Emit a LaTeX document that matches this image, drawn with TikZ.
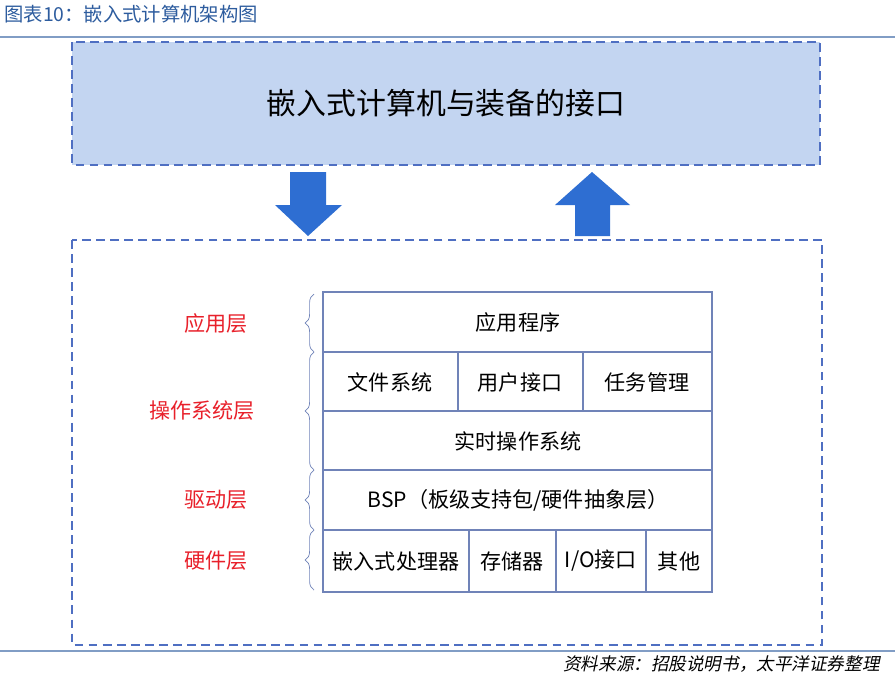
\documentclass[tikz,border=0pt]{standalone}
\usepackage{fontspec}
\setmainfont{Liberation Sans}
\newfontfamily\cjk{Noto Sans CJK SC}
\newfontfamily\cjkit[FakeSlant=0.2]{Noto Sans CJK SC}
\usetikzlibrary{decorations.pathreplacing}
\definecolor{boxblue}{HTML}{C3D5F1}
\definecolor{dashblue}{HTML}{4F6FC2}
\definecolor{arrowblue}{HTML}{2E6ED2}
\definecolor{gridblue}{HTML}{7083B8}
\definecolor{titleblue}{HTML}{2D5C9E}
\definecolor{layerred}{HTML}{E8202A}
\begin{document}
\begin{tikzpicture}[x=0.02cm, y=-0.02cm]
\tikzset{cell/.style={inner sep=0pt, font=\cjk\fontsize{12}{14}\selectfont},
  layer/.style={inner sep=0pt, text=layerred, font=\cjk\fontsize{12}{14}\selectfont},
  dashbox/.style={draw=dashblue, dashed, line width=0.9pt, dash pattern=on 5pt off 3pt},
  bigarrow/.style={fill=arrowblue, draw=none},
  grid/.style={draw=gridblue, line width=0.9pt},
  layerbrace/.style={draw=gridblue, decorate, decoration={brace, amplitude=5pt}}}
\useasboundingbox (0,0) rectangle (895,677);
% title and rules
\node[anchor=west, inner sep=0pt, text=titleblue, font=\cjk\fontsize{11}{13}\selectfont] (title) at (4,14) {图表10：嵌入式计算机架构图};
\draw[titleblue!60, line width=0.8pt] (0,37) -- (895,37);
\draw[titleblue!60, line width=0.8pt] (0,651) -- (895,651);
\node[anchor=east, inner sep=0pt, font=\cjkit\fontsize{10}{12}\selectfont] (source) at (880,664) {资料来源：招股说明书，太平洋证券整理};
% interface box
\draw[dashbox, fill=boxblue] (72,42) rectangle (820,165);
\node[inner sep=0pt, font=\cjk\fontsize{17}{20}\selectfont] (iface) at (446,103) {嵌入式计算机与装备的接口};
% arrows
\fill[bigarrow] (290,172) -- (326,172) -- (326,205) -- (342,205) -- (308,236) -- (275,205) -- (290,205) -- cycle;
\fill[bigarrow] (592,172) -- (630,205) -- (610,205) -- (610,236) -- (575,236) -- (575,205) -- (555,205) -- cycle;
% system box
\draw[dashbox] (72,240) rectangle (822,645);
\draw[grid] (323,292) rectangle (712,592);
\foreach \y in {352,411,470,530} \draw[grid] (323,\y) -- (712,\y);
\foreach \x in {458,583} \draw[grid] (\x,352) -- (\x,411);
\foreach \x in {469,556,646} \draw[grid] (\x,530) -- (\x,592);
\node[cell] (app) at (518,322) {应用程序};
\node[cell] (fs) at (390,382) {文件系统};
\node[cell] (ui) at (520,382) {用户接口};
\node[cell] (task) at (647,382) {任务管理};
\node[cell] (rtos) at (518,441) {实时操作系统};
\node[cell] (bsp) at (518,500) {BSP（板级支持包/硬件抽象层）};
\node[cell] (cpu) at (396,561) {嵌入式处理器};
\node[cell] (mem) at (512,561) {存储器};
\node[cell] (io) at (601,561) {I/O接口};
\node[cell] (other) at (679,561) {其他};
% layers
\coordinate (b0) at (314,294);
\coordinate (b1) at (314,352);
\coordinate (b2) at (314,470);
\coordinate (b3) at (314,530);
\coordinate (b4) at (314,590);
\draw[layerbrace] (b1) -- (b0);
\draw[layerbrace] (b2) -- (b1);
\draw[layerbrace] (b3) -- (b2);
\draw[layerbrace] (b4) -- (b3);
\node[layer] (lapp) at (216,323) {应用层};
\node[layer] (los) at (202,411) {操作系统层};
\node[layer] (ldrv) at (216,500) {驱动层};
\node[layer] (lhw) at (216,561) {硬件层};
\end{tikzpicture}
\end{document}
